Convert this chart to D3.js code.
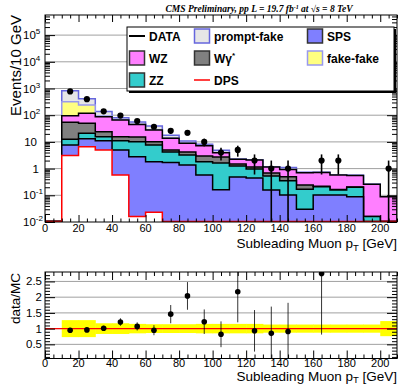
<!DOCTYPE html>
<html>
<head>
<meta charset="utf-8">
<script src="https://cdn.jsdelivr.net/npm/d3@7"></script>
<style>
body { margin: 0; background: #fff; }
svg { font-family: "Liberation Sans", Arial, sans-serif; }
</style>
</head>
<body>
<script>
// histogram bins (low edge, GeV), width 10
let binLow = [0,10,20,30,40,50,60,70,80,90,100,110,120,130,140,150,160,170,180,190,200]

// expected events per bin, one array per process
let dps        = [0,3.1,6.6,5.0,0.58,0.016,0.023,0,0,0,0,0,0,0,0,0,0,0,0,0,0]
let sps        = [0,4.6,6.6,6.1,4.4,2.77,1.79,1.69,1.37,0.58,0.16,0.485,0.445,0.158,0.103,0.030,0.103,0.103,0.089,0,0]
let zz         = [0,4.9,7.8,4.6,6.1,7.4,5.85,2.5,1.86,1.23,1.46,0.77,0.52,0.37,0.25,0.138,0.107,0.055,0.111,0.016,0]
let wgam       = [0,41.8,28.8,8.4,4.6,5.1,2.54,0.79,0.96,1.16,1.1,0.24,0.18,0.156,0.145,0.075,0.009,0.007,0.005,0,0]
let wz         = [0,41.6,68.1,63.9,50.5,29.6,17.7,8.67,4.68,4.24,1.22,0.76,0.95,0.465,0.428,0.46,0.5,0.412,0.351,0.243,0.089]
let fakefake   = [0,224.6,123.3,5.4,2.9,0.5,0.6,0.3,0.13,0.06,0.04,0.01,0.01,0.005,0.01,0.005,0.003,0.001,0.002,0,0]
let promptfake = [0,503.5,176.3,45.2,11.1,10.6,10.6,3.95,1.8,0.93,0.92,0.04,0.04,0.025,0.164,0.026,0.005,0.002,0.002,0.001,0]

// data
let dataX   = [15,25,35,45,55,65,75,85,95,105,115,125,135,145,165,175,205]
let dataN   = [780,400,140,97,60,37,26,22,10,4,5,2,1,1,2,2,1]
let dataErr = [28,20,12,10,7.7,6.1,5.1,4.7,3.2,2,2.2,1.4,1,1,1.4,1.4,1]

// data / MC
let ratioX   = [15,25,35,45,55,65,75,85,95,105,115,125,135,145,165]
let ratioV   = [0.95,0.96,1.01,1.21,1.07,0.95,1.46,2.04,1.22,0.82,2.17,0.93,0.85,0.91,2.75]
let ratioErr = [0.04,0.05,0.08,0.12,0.13,0.16,0.29,0.44,0.39,0.41,0.97,0.66,0.85,0.91,1.94]
// MC uncertainty band, bins 10..210
let bandLow = [10,20,30,40,50,60,70,80,90,100,110,120,130,140,150,160,170,180,190,200]
let bandErr = [0.27,0.27,0.17,0.17,0.15,0.14,0.14,0.14,0.15,0.15,0.15,0.15,0.13,0.13,0.13,0.13,0.13,0.13,0.13,0.24]

// tick labels
let xTicks = [0,20,40,60,80,100,120,140,160,180,200]
let yDecades = [-2,-1,0,1,2,3,4,5]
let rTicks = [0.5,1,1.5,2,2.5]

var width = 400, height = 385
var xl = 45, xr = 397
var tTop = 15, tBot = 222
var rTop = 272, rBot = 358.5

var svg = d3.select("body")
            .append("svg")
            .attr("width", width)
            .attr("height", height)

var x = d3.scaleLinear().domain([0, 210]).range([xl, xr])
var y = d3.scaleLog().domain([0.01, 5.66e5]).range([tBot, tTop])
var yr = d3.scaleLinear().domain([0.05, 2.8]).range([rBot, rTop])

var floorV = 0.0104
function cl(v) { return Math.max(v, floorV) }

var defs = svg.append("defs")
defs.append("clipPath").attr("id", "ctop")
    .append("rect").attr("x", xl).attr("y", tTop).attr("width", xr - xl).attr("height", tBot - tTop)
defs.append("clipPath").attr("id", "crat")
    .append("rect").attr("x", xl).attr("y", rTop).attr("width", xr - xl).attr("height", rBot - rTop)

// ---------- top panel ----------
// grid
svg.append("g").selectAll("line")
   .data(yDecades.filter(d => d > -2))
   .enter().append("line")
   .attr("x1", xl).attr("x2", xr)
   .attr("y1", d => y(Math.pow(10, d))).attr("y2", d => y(Math.pow(10, d)))
   .attr("stroke", "#a0a0a0").attr("stroke-width", 1)

// stack
var keys = ["DPS", "SPS", "ZZ", "Wgam", "WZ", "fakefake", "promptfake"]
var fills = { DPS: "#ffffff", SPS: "#7f7fff", ZZ: "#33cccc", Wgam: "#808080", WZ: "#ff7fff", fakefake: "#ffff80", promptfake: "#e6e6e6" }
var lines = { DPS: "#ff0000", SPS: "#000000", ZZ: "#000000", Wgam: "#000000", WZ: "#000000", fakefake: "#9999ee", promptfake: "#6666dd" }

var table = binLow.map((b, i) => ({
    lo: b, DPS: dps[i], SPS: sps[i], ZZ: zz[i], Wgam: wgam[i],
    WZ: wz[i], fakefake: fakefake[i], promptfake: promptfake[i]
}))
var layers = d3.stack().keys(keys)(table)

var hist = svg.append("g").attr("clip-path", "url(#ctop)")

var area = d3.area()
             .x(p => x(p[0]))
             .y0(y(0.01))
             .y1(p => y(cl(p[1])))
             .curve(d3.curveStepAfter)
var line = d3.line()
             .x(p => x(p[0]))
             .y(p => y(cl(p[1])))
             .curve(d3.curveStepAfter)

layers.slice().reverse().forEach(layer => {
    var pts = layer.map((d, i) => [binLow[i], d[1]])
    pts.push([210, layer[layer.length - 1][1]])
    hist.append("path").attr("d", area(pts)).attr("fill", fills[layer.key])
    var outline = pts.concat([[210, 0]])
    hist.append("path").attr("d", line(outline))
        .attr("fill", "none")
        .attr("stroke", lines[layer.key])
        .attr("stroke-width", 1.5)
})

// data points
var pts = hist.append("g")
pts.selectAll("line")
   .data(dataX)
   .enter().append("line")
   .attr("x1", d => x(d)).attr("x2", d => x(d))
   .attr("y1", (d, i) => y(cl(dataN[i] + dataErr[i])))
   .attr("y2", (d, i) => dataN[i] - dataErr[i] > 0 ? y(dataN[i] - dataErr[i]) : tBot + 2)
   .attr("stroke", "#000").attr("stroke-width", 1.6)
pts.selectAll("circle")
   .data(dataX)
   .enter().append("circle")
   .attr("cx", d => x(d)).attr("cy", (d, i) => y(dataN[i]))
   .attr("r", 3.1).attr("fill", "#000")

// axes (ticks point inwards)
function minorLog() {
    var m = []
    yDecades.forEach(e => { for (var k = 2; k < 10; k++) { var v = k * Math.pow(10, e); if (v < 5.66e5) m.push(v) } })
    return m
}
var majY = yDecades.map(e => Math.pow(10, e))
var minX = d3.range(0, 211, 5).filter(v => v % 20 != 0)

function noDomain(g) { g.select(".domain").remove() }

svg.append("g").attr("transform", "translate(0," + tBot + ")")
   .call(d3.axisBottom(x).tickValues(xTicks).tickSize(-7).tickFormat("")).call(noDomain)
svg.append("g").attr("transform", "translate(0," + tBot + ")")
   .call(d3.axisBottom(x).tickValues(minX).tickSize(-3.5).tickFormat("")).call(noDomain)
svg.append("g").attr("transform", "translate(0," + tTop + ")")
   .call(d3.axisTop(x).tickValues(xTicks).tickSize(-7).tickFormat("")).call(noDomain)
svg.append("g").attr("transform", "translate(0," + tTop + ")")
   .call(d3.axisTop(x).tickValues(minX).tickSize(-3.5).tickFormat("")).call(noDomain)
svg.append("g").attr("transform", "translate(" + xl + ",0)")
   .call(d3.axisLeft(y).tickValues(majY).tickSize(-10).tickFormat("")).call(noDomain)
svg.append("g").attr("transform", "translate(" + xl + ",0)")
   .call(d3.axisLeft(y).tickValues(minorLog()).tickSize(-5).tickFormat("")).call(noDomain)
svg.append("g").attr("transform", "translate(" + xr + ",0)")
   .call(d3.axisRight(y).tickValues(majY).tickSize(-10).tickFormat("")).call(noDomain)
svg.append("g").attr("transform", "translate(" + xr + ",0)")
   .call(d3.axisRight(y).tickValues(minorLog()).tickSize(-5).tickFormat("")).call(noDomain)

svg.append("rect").attr("x", xl).attr("y", tTop).attr("width", xr - xl).attr("height", tBot - tTop)
   .attr("fill", "none").attr("stroke", "#000").attr("stroke-width", 1)

// tick labels
svg.append("g").selectAll("text")
   .data(xTicks).enter().append("text")
   .attr("x", d => x(d)).attr("y", 232)
   .attr("text-anchor", "middle").attr("font-size", 11)
   .text(d => d)

var yl = svg.append("g").attr("font-size", 11.5)
yDecades.forEach(e => {
    var yy = y(Math.pow(10, e)) + 4
    if (e == 0) {
        yl.append("text").attr("x", 39).attr("y", yy).attr("text-anchor", "end").text("1")
    } else if (e == 1) {
        yl.append("text").attr("x", 37).attr("y", yy).attr("text-anchor", "end").text("10")
    } else {
        var t = yl.append("text").attr("x", 23).attr("y", yy)
        t.append("tspan").text("10")
        t.append("tspan").attr("font-size", 8).attr("dy", -5).text(e)
    }
})

svg.append("text")
   .attr("transform", "translate(21," + tTop + ") rotate(-90)")
   .attr("text-anchor", "end").attr("font-size", 15)
   .text("Events/10 GeV")

var xt = svg.append("text").attr("x", xr).attr("y", 248)
            .attr("text-anchor", "end").attr("font-size", 13.5)
xt.append("tspan").text("Subleading Muon p")
xt.append("tspan").attr("font-size", 9.5).attr("dy", 2.5).text("T")
xt.append("tspan").attr("dy", -2.5).text(" [GeV]")

// title
var tt = svg.append("text").attr("x", 259).attr("y", 12)
            .attr("text-anchor", "middle")
            .attr("font-family", "'Liberation Serif', 'Times New Roman', serif")
            .attr("font-style", "italic").attr("font-weight", "bold").attr("font-size", 9.5)
tt.append("tspan").text("CMS Preliminary, pp L = 19.7 fb")
tt.append("tspan").attr("font-size", 6).attr("dy", -3).text("-1")
tt.append("tspan").attr("dy", 3).text(" at \u221As = 8 TeV")

// legend
var lg = svg.append("g").attr("font-weight", "bold").attr("font-size", 12)
lg.append("rect").attr("x", 129).attr("y", 29).attr("width", 267).attr("height", 64).attr("fill", "#000")
lg.append("rect").attr("x", 127).attr("y", 27).attr("width", 267).attr("height", 64)
  .attr("fill", "#fff").attr("stroke", "#000").attr("stroke-width", 1)

var entries = [
    { label: "DATA", kind: "line", col: 0, row: 0, color: "#000" },
    { label: "prompt-fake", kind: "box", col: 1, row: 0, key: "promptfake" },
    { label: "SPS", kind: "box", col: 2, row: 0, key: "SPS" },
    { label: "WZ", kind: "box", col: 0, row: 1, key: "WZ" },
    { label: "W\u03B3", kind: "box", col: 1, row: 1, key: "Wgam", sup: "*" },
    { label: "fake-fake", kind: "box", col: 2, row: 1, key: "fakefake" },
    { label: "ZZ", kind: "box", col: 0, row: 2, key: "ZZ" },
    { label: "DPS", kind: "line", col: 1, row: 2, color: "#ff0000" }
]
var colX = [129, 194, 307]
var rowY = [36, 58, 80]
entries.forEach(e => {
    var bx = colX[e.col], cy = rowY[e.row]
    if (e.kind == "line") {
        lg.append("line").attr("x1", bx).attr("x2", bx + 16).attr("y1", cy).attr("y2", cy)
          .attr("stroke", e.color).attr("stroke-width", e.color == "#000" ? 2 : 1.5)
    } else {
        lg.append("rect").attr("x", bx + 0.5).attr("y", cy - 7).attr("width", 15).attr("height", 14)
          .attr("fill", fills[e.key]).attr("stroke", e.key == "fakefake" || e.key == "promptfake" ? lines[e.key] : "#333")
          .attr("stroke-width", 1.5)
    }
    var t = lg.append("text").attr("x", bx + 20).attr("y", cy + 4.5)
    t.append("tspan").text(e.label)
    if (e.sup) t.append("tspan").attr("font-size", 8).attr("dy", -5).text(e.sup)
})

// ---------- ratio panel ----------
svg.append("g").selectAll("line")
   .data(rTicks)
   .enter().append("line")
   .attr("x1", xl).attr("x2", xr)
   .attr("y1", d => yr(d)).attr("y2", d => yr(d))
   .attr("stroke", "#a0a0a0").attr("stroke-width", 1)

var rat = svg.append("g").attr("clip-path", "url(#crat)")
rat.selectAll("rect")
   .data(bandLow)
   .enter().append("rect")
   .attr("x", d => x(d)).attr("width", d => x(d + 10) - x(d) + 0.5)
   .attr("y", (d, i) => yr(1 + bandErr[i]))
   .attr("height", (d, i) => yr(1 - bandErr[i]) - yr(1 + bandErr[i]))
   .attr("fill", "#ffff00")
rat.append("line").attr("x1", xl).attr("x2", xr).attr("y1", yr(1)).attr("y2", yr(1))
   .attr("stroke", "#ff0000").attr("stroke-width", 1.2)

rat.selectAll(".eb")
   .data(ratioX)
   .enter().append("line").attr("class", "eb")
   .attr("x1", d => x(d)).attr("x2", d => x(d))
   .attr("y1", (d, i) => yr(ratioV[i] + ratioErr[i]))
   .attr("y2", (d, i) => yr(ratioV[i] - ratioErr[i]))
   .attr("stroke", "#000").attr("stroke-width", 0.8)
rat.selectAll("circle")
   .data(ratioX)
   .enter().append("circle")
   .attr("cx", d => x(d)).attr("cy", (d, i) => yr(ratioV[i]))
   .attr("r", 2.8).attr("fill", "#000")

var minR = d3.range(0.1, 2.8, 0.1).filter(v => Math.abs(v * 2 - Math.round(v * 2)) > 0.01)
svg.append("g").attr("transform", "translate(0," + rBot + ")")
   .call(d3.axisBottom(x).tickValues(xTicks).tickSize(-8).tickFormat("")).call(noDomain)
svg.append("g").attr("transform", "translate(0," + rBot + ")")
   .call(d3.axisBottom(x).tickValues(minX).tickSize(-4).tickFormat("")).call(noDomain)
svg.append("g").attr("transform", "translate(0," + rTop + ")")
   .call(d3.axisTop(x).tickValues(xTicks).tickSize(-8).tickFormat("")).call(noDomain)
svg.append("g").attr("transform", "translate(0," + rTop + ")")
   .call(d3.axisTop(x).tickValues(minX).tickSize(-4).tickFormat("")).call(noDomain)
svg.append("g").attr("transform", "translate(" + xl + ",0)")
   .call(d3.axisLeft(yr).tickValues(rTicks).tickSize(-10).tickFormat("")).call(noDomain)
svg.append("g").attr("transform", "translate(" + xl + ",0)")
   .call(d3.axisLeft(yr).tickValues(minR).tickSize(-5).tickFormat("")).call(noDomain)
svg.append("g").attr("transform", "translate(" + xr + ",0)")
   .call(d3.axisRight(yr).tickValues(rTicks).tickSize(-10).tickFormat("")).call(noDomain)
svg.append("g").attr("transform", "translate(" + xr + ",0)")
   .call(d3.axisRight(yr).tickValues(minR).tickSize(-5).tickFormat("")).call(noDomain)

svg.append("rect").attr("x", xl).attr("y", rTop).attr("width", xr - xl).attr("height", rBot - rTop)
   .attr("fill", "none").attr("stroke", "#000").attr("stroke-width", 1)

svg.append("g").selectAll("text")
   .data(xTicks).enter().append("text")
   .attr("x", d => x(d)).attr("y", 367)
   .attr("text-anchor", "middle").attr("font-size", 11)
   .text(d => d)
svg.append("g").selectAll("text")
   .data(rTicks).enter().append("text")
   .attr("x", 42).attr("y", d => yr(d) + 4)
   .attr("text-anchor", "end").attr("font-size", 11.5)
   .text(d => d)

svg.append("text")
   .attr("transform", "translate(20," + (rTop + 1) + ") rotate(-90)")
   .attr("text-anchor", "end").attr("font-size", 13.5)
   .text("data/MC")

var xt2 = svg.append("text").attr("x", xr).attr("y", 381)
             .attr("text-anchor", "end").attr("font-size", 13.5)
xt2.append("tspan").text("Subleading Muon p")
xt2.append("tspan").attr("font-size", 9.5).attr("dy", 2).text("T")
xt2.append("tspan").attr("dy", -2).text(" [GeV]")
</script>
</body>
</html>
